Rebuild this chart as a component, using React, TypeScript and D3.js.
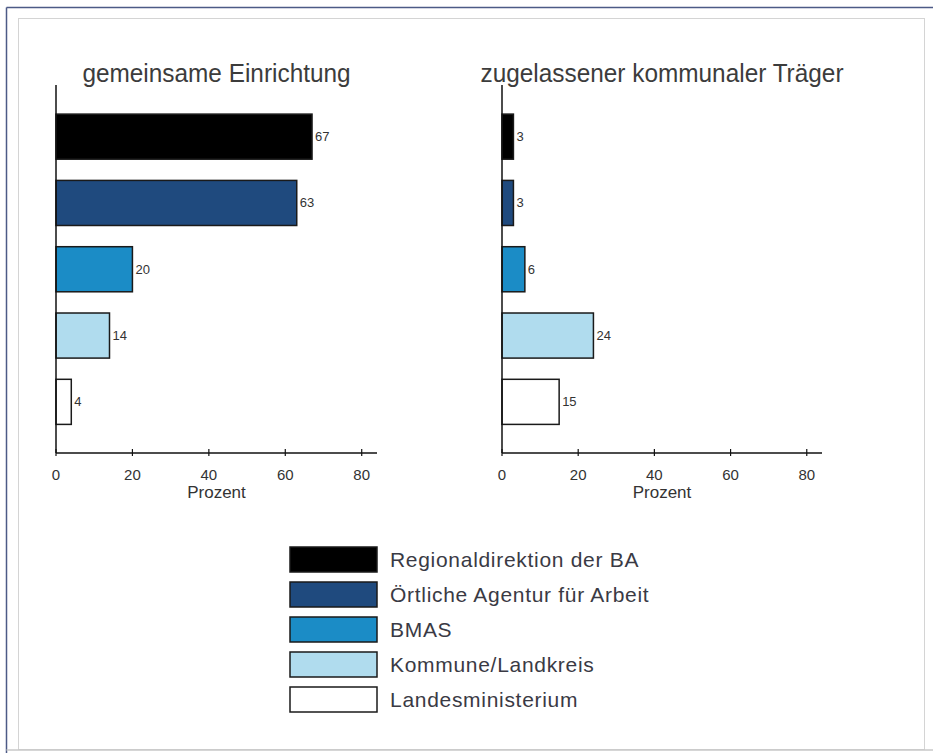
import React from "react";
import * as d3 from "d3";

const categories = [
  "Regionaldirektion der BA",
  "Örtliche Agentur für Arbeit",
  "BMAS",
  "Kommune/Landkreis",
  "Landesministerium",
];
const colors = ["#000000", "#1f4a7e", "#1b8cc6", "#b0dcee", "#ffffff"];
const panelTitles = ["gemeinsame Einrichtung", "zugelassener kommunaler Träger"];
const valuesGemeinsam = [67, 63, 20, 14, 4];
const valuesZugelassen = [3, 3, 6, 24, 15];
const xTicks = [0, 20, 40, 60, 80];
const axisLabel = "Prozent";

const panels = [
  { title: panelTitles[0], values: valuesGemeinsam, x0: 56, x1: 377 },
  { title: panelTitles[1], values: valuesZugelassen, x0: 502, x1: 822 },
];

export default function App() {
  const W = 933;
  const H = 753;
  const axisTop = 85;
  const axisBottom = 453;
  const y = d3
    .scaleBand<string>()
    .domain(categories)
    .range([103.5, 435])
    .paddingInner(0.32)
    .paddingOuter(0.16);

  const legendX = 290;
  const legendY = 547;
  const legendStep = 35;
  const font = "'Liberation Sans', Arial, sans-serif";

  return (
    <div style={{ position: "fixed", left: 0, top: 0 }}>
      <svg width={W} height={H} style={{ display: "block", background: "#fff" }} fontFamily={font}>
        {/* frames */}
        <line x1={6.5} y1={7.5} x2={W} y2={7.5} stroke="#4c5a86" strokeWidth={1.5} />
        <line x1={6.5} y1={7.5} x2={6.5} y2={H} stroke="#4c5a86" strokeWidth={1.5} />
        <rect x={18.5} y={18.5} width={906} height={731} fill="none" stroke="#d4d4d4" strokeWidth={1} />
        <line x1={6.5} y1={750} x2={W} y2={750} stroke="#c8c8c8" strokeWidth={1.5} />

        {panels.map((p, pi) => {
          const x = d3.scaleLinear().domain([0, 84]).range([p.x0, p.x1]);
          const cx = (p.x0 + p.x1) / 2;
          return (
            <g key={pi}>
              <text
                transform={`translate(${cx},82) scale(0.92,1)`}
                textAnchor="middle"
                fontSize={26.5}
                fill="#3c3c3c"
              >
                {p.title}
              </text>
              {p.values.map((v, i) => (
                <g key={i}>
                  <rect
                    x={x(0)}
                    y={y(categories[i])}
                    width={x(v) - x(0)}
                    height={y.bandwidth()}
                    fill={colors[i]}
                    stroke="#1a1a1a"
                    strokeWidth={1.5}
                  />
                  <text
                    x={x(v) + 3}
                    y={(y(categories[i]) as number) + y.bandwidth() / 2}
                    dominantBaseline="central"
                    fontSize={13}
                    fill="#333"
                  >
                    {v}
                  </text>
                </g>
              ))}
              {/* axes */}
              <line x1={x(0)} y1={axisTop} x2={x(0)} y2={axisBottom} stroke="#111" strokeWidth={1.5} />
              <line x1={x(0)} y1={axisBottom} x2={x(84)} y2={axisBottom} stroke="#111" strokeWidth={1.5} />
              {xTicks.map((t) => (
                <g key={t}>
                  <line x1={x(t)} y1={axisBottom - 4} x2={x(t)} y2={axisBottom + 3} stroke="#111" strokeWidth={1.2} />
                  <text x={x(t)} y={474} textAnchor="middle" dominantBaseline="central" fontSize={15} fill="#333">
                    {t}
                  </text>
                </g>
              ))}
              <text x={cx} y={498} textAnchor="middle" fontSize={17} fill="#333">
                {axisLabel}
              </text>
            </g>
          );
        })}

        {/* legend */}
        {categories.map((c, i) => (
          <g key={c}>
            <rect
              x={legendX}
              y={legendY + i * legendStep}
              width={87}
              height={25}
              fill={colors[i]}
              stroke="#1a1a1a"
              strokeWidth={1.5}
            />
            <text
              x={legendX + 100}
              y={legendY + i * legendStep + 12.5}
              dominantBaseline="central"
              fontSize={21}
              letterSpacing={0.7}
              fill="#3a3a44"
            >
              {c}
            </text>
          </g>
        ))}
      </svg>
    </div>
  );
}
